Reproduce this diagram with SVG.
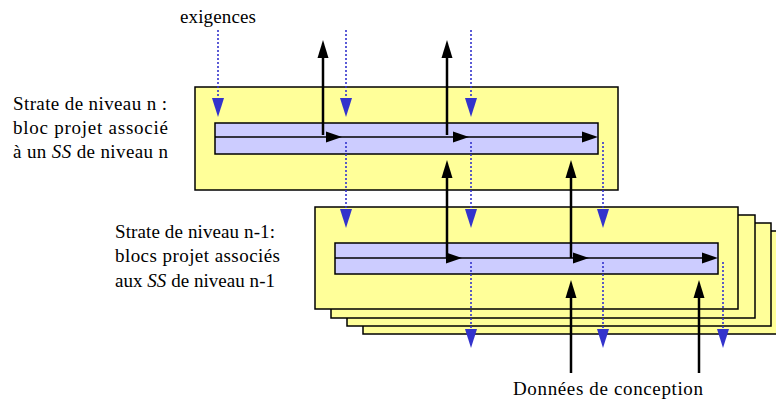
<svg xmlns="http://www.w3.org/2000/svg" width="776" height="401" viewBox="0 0 776 401">
<defs>
<style>
.box{fill:#ffff99;stroke:#000;stroke-width:1.5}
.bar{fill:#ccccff;stroke:#000;stroke-width:1.5}
.flow{stroke:#000;stroke-width:1.5;fill:none}
.up{stroke:#000;stroke-width:2.5;fill:none}
.dot{stroke:#3333cc;stroke-width:1.6;stroke-dasharray:2 2;fill:none}
.bh{fill:#3333cc}
.kh{fill:#000}
</style>
</defs>
<rect width="776" height="401" fill="#fff"/>
<g id="strate-n">
<rect class="box" x="195" y="87" width="423" height="103"/>
<rect class="bar" x="215" y="123" width="383" height="31"/>
</g>
<g id="strate-n-1">
<rect class="box" x="363" y="231" width="423" height="103"/>
<rect class="box" x="347" y="223" width="424" height="103"/>
<rect class="box" x="331" y="215" width="424" height="103"/>
<rect class="box" x="315" y="207" width="423" height="102"/>
<rect class="bar" x="335" y="243" width="383" height="31"/>
</g>
<g id="label-n" font-family="Liberation Serif, serif" font-size="19" fill="#000">
<text x="13" y="110" textLength="154" lengthAdjust="spacing">Strate de niveau n :</text>
<text x="13" y="134" textLength="155" lengthAdjust="spacing">bloc projet associé</text>
<text x="13" y="158" textLength="155" lengthAdjust="spacing">à un <tspan font-style="italic">SS</tspan> de niveau n</text>
</g>
<g id="label-n-1" font-family="Liberation Serif, serif" font-size="19" fill="#000">
<text x="115" y="238" textLength="160" lengthAdjust="spacing">Strate de niveau n-1:</text>
<text x="115" y="262" textLength="165" lengthAdjust="spacing">blocs projet associés</text>
<text x="115" y="287" textLength="160" lengthAdjust="spacing">aux <tspan font-style="italic">SS</tspan> de niveau n-1</text>
</g>
<g id="label-exigences" font-family="Liberation Serif, serif" font-size="19" fill="#000">
<text x="180" y="23" textLength="76" lengthAdjust="spacing">exigences</text>
</g>
<g id="label-donnees" font-family="Liberation Serif, serif" font-size="19" fill="#000">
<text x="513" y="395" textLength="190" lengthAdjust="spacing">Données de conception</text>
</g>
<g id="connectors">
<line class="flow" x1="215" y1="137" x2="590" y2="137"/>
<polygon class="kh" points="326,131.5 342,137 326,142.5"/>
<polygon class="kh" points="453,131.5 469,137 453,142.5"/>
<polygon class="kh" points="582,131.5 598,137 582,142.5"/>
<line class="flow" x1="335" y1="258" x2="710" y2="258"/>
<polygon class="kh" points="446,252.5 462,258 446,263.5"/>
<polygon class="kh" points="573,252.5 589,258 573,263.5"/>
<polygon class="kh" points="702,252.5 718,258 702,263.5"/>
<line class="up" x1="323" y1="135" x2="323" y2="54"/>
<polygon class="kh" points="317.5,58 323,40 328.5,58"/>
<line class="up" x1="447" y1="135" x2="447" y2="54"/>
<polygon class="kh" points="441.5,58 447,40 452.5,58"/>
<line class="up" x1="447" y1="258" x2="447" y2="174"/>
<polygon class="kh" points="441.5,178 447,160 452.5,178"/>
<line class="up" x1="571" y1="258" x2="571" y2="174"/>
<polygon class="kh" points="565.5,178 571,160 576.5,178"/>
<line class="up" x1="571" y1="373" x2="571" y2="294"/>
<polygon class="kh" points="565.5,298 571,280 576.5,298"/>
<line class="up" x1="699" y1="373" x2="699" y2="294"/>
<polygon class="kh" points="693.5,298 699,280 704.5,298"/>
<line class="dot" x1="218" y1="30" x2="218" y2="100"/>
<polygon class="bh" points="212,98 224,98 218,117"/>
<line class="dot" x1="346" y1="30" x2="346" y2="100"/>
<polygon class="bh" points="340,98 352,98 346,117"/>
<line class="dot" x1="471" y1="30" x2="471" y2="100"/>
<polygon class="bh" points="465,98 477,98 471,117"/>
<line class="dot" x1="346" y1="142" x2="346" y2="211"/>
<polygon class="bh" points="340,209 352,209 346,228"/>
<line class="dot" x1="471" y1="142" x2="471" y2="211"/>
<polygon class="bh" points="465,209 477,209 471,228"/>
<line class="dot" x1="603" y1="142" x2="603" y2="211"/>
<polygon class="bh" points="597,209 609,209 603,228"/>
<line class="dot" x1="471" y1="262" x2="471" y2="331"/>
<polygon class="bh" points="465,329 477,329 471,348"/>
<line class="dot" x1="603" y1="262" x2="603" y2="331"/>
<polygon class="bh" points="597,329 609,329 603,348"/>
<line class="dot" x1="723" y1="262" x2="723" y2="331"/>
<polygon class="bh" points="717,329 729,329 723,348"/>
</g>
</svg>
